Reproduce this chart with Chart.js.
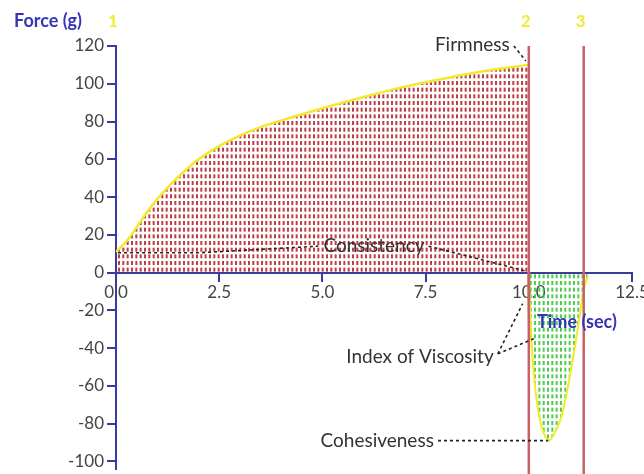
<!DOCTYPE html>
<html>
<head>
<meta charset="utf-8">
<script src="https://cdn.jsdelivr.net/npm/chart.js@4/dist/chart.umd.min.js"></script>
<style>
  html, body { margin: 0; padding: 0; background: #fff; }
</style>
</head>
<body>
<canvas id="chart" width="644" height="474"></canvas>
<script>
// compression run: force (g) against time (sec)
const holdTime = [0, 0.25, 0.5, 0.75, 1, 1.25, 1.5, 2, 2.5, 3, 3.5, 4, 5, 6, 7, 8, 9, 10];
const holdForce = [11, 16.5, 24, 32, 39, 45, 50.5, 60, 67, 72.5, 77, 80.5, 87, 93, 98.5, 103, 107, 110];

// withdrawal: negative (sticky) part
const pullTime = [10, 10.03, 10.08, 10.15, 10.22, 10.3, 10.4, 10.49, 10.6, 10.75, 10.9, 11.05, 11.2, 11.3, 11.38, 11.43];
const pullForce = [0, -20, -42, -60, -72, -81, -87, -89, -86, -79, -66, -48, -28, -13, -5, -2];

// short stretch used for index of viscosity
const viscTime = [10, 10.02];
const viscForce = [0, -35];

const xTicks = [0, 2.5, 5, 7.5, 10, 12.5];
const yTicks = [-100, -80, -60, -40, -20, 0, 20, 40, 60, 80, 100, 120];

// event markers 1, 2, 3
const markTime = [0, 10, 11.33];
const markLabel = ["1", "2", "3"];

const navy = "#3b3b9e";
const yellow = "#f3ea2e";

function toPoints(xs, ys) {
  return xs.map((v, i) => ({ x: v, y: ys[i] }));
}

// small dashed hatch fill
function hatch(color) {
  const c = document.createElement("canvas");
  c.width = 13;
  c.height = 20;
  const g = c.getContext("2d");
  g.fillStyle = color;
  for (let i = 0; i < 3; i++) {
    for (let j = 0; j < 3; j++) {
      g.fillRect(i * 4.33 + 1, j * 6.67 + 1, 2, 4);
    }
  }
  return g.createPattern(c, "repeat");
}

function dashed(ctx, pts) {
  ctx.save();
  ctx.strokeStyle = "#222";
  ctx.lineWidth = 1.6;
  ctx.setLineDash([3, 3]);
  ctx.beginPath();
  pts.forEach((p, i) => (i ? ctx.lineTo(p[0], p[1]) : ctx.moveTo(p[0], p[1])));
  ctx.stroke();
  ctx.restore();
}

// keep the plot box where the padding puts it
function noPad(s) {
  s.paddingLeft = 0;
  s.paddingRight = 0;
  s.paddingTop = 0;
  s.paddingBottom = 0;
}

const markers = {
  id: "markers",
  afterDatasetsDraw(chart) {
    const { ctx, scales: { x, y } } = chart;
    ctx.save();
    ctx.strokeStyle = "#c86262";
    ctx.lineWidth = 2.5;
    for (const t of markTime.slice(1)) {
      const px = x.getPixelForValue(t);
      ctx.beginPath();
      ctx.moveTo(px, y.getPixelForValue(120));
      ctx.lineTo(px, chart.height);
      ctx.stroke();
    }
    ctx.restore();
  },
  afterDraw(chart) {
    const { ctx, scales: { x, y } } = chart;
    const X = (v) => x.getPixelForValue(v);
    const Y = (v) => y.getPixelForValue(v);
    ctx.save();
    ctx.textBaseline = "middle";

    // axis captions
    ctx.fillStyle = "#3434b8";
    ctx.font = "bold 18px Lato";
    ctx.textAlign = "left";
    ctx.fillText("Force (g)", 14, 21);
    ctx.fillText("Time (sec)", X(10.2), Y(-26.5));

    // marker numbers
    ctx.fillStyle = yellow;
    ctx.font = "bold 17px Lato";
    ctx.textAlign = "center";
    markTime.forEach((t, i) => ctx.fillText(markLabel[i], X(t) - 3, 22));

    ctx.fillStyle = "#333";
    ctx.font = "19px Lato";

    // firmness: peak force
    const pk = [X(10), Y(110)];
    ctx.textAlign = "right";
    ctx.fillText("Firmness", pk[0] - 19, pk[1] - 20);
    dashed(ctx, [[pk[0] - 15, pk[1] - 19], [pk[0] - 3, pk[1] - 4]]);

    // consistency: area under the hold curve
    ctx.textAlign = "left";
    ctx.fillText("Consistency", X(5) + 1, Y(14));
    const cw = ctx.measureText("Consistency").width;
    dashed(ctx, [[X(0.05), Y(10.5)], [X(2), Y(10.5)], [X(4.9), Y(14)]]);
    dashed(ctx, [[X(5) + cw + 5, Y(14)], [X(9.9), Y(1)]]);

    // index of viscosity: negative area
    ctx.textAlign = "right";
    ctx.fillText("Index of Viscosity", X(9.15), Y(-44.5));
    dashed(ctx, [[X(9.25), Y(-43)], [X(9.85), Y(-16.5)]]);
    dashed(ctx, [[X(9.25), Y(-43)], [X(10.12), Y(-35)]]);

    // cohesiveness: lowest force
    ctx.fillText("Cohesiveness", X(7.7), Y(-89));
    dashed(ctx, [[X(7.8), Y(-89)], [X(10.47), Y(-89)]]);
    ctx.restore();
  },
};

new Chart(document.getElementById("chart"), {
  type: "line",
  data: {
    datasets: [
      {
        data: toPoints(holdTime, holdForce),
        borderColor: yellow,
        borderWidth: 2.5,
        backgroundColor: hatch("rgba(180, 40, 50, 0.9)"),
        fill: "origin",
        tension: 0.35,
      },
      {
        data: toPoints(pullTime, pullForce),
        borderColor: yellow,
        borderWidth: 2,
        backgroundColor: hatch("rgba(60, 200, 60, 0.9)"),
        fill: "origin",
        tension: 0.2,
      },
      {
        data: toPoints(viscTime, viscForce),
        borderColor: "#e07a1e",
        borderWidth: 3,
        fill: false,
      },
    ],
  },
  options: {
    responsive: false,
    animation: false,
    events: [],
    elements: { point: { radius: 0 } },
    layout: { autoPadding: false, padding: { top: 46, right: 12, bottom: 5, left: 0 } },
    plugins: { legend: { display: false }, tooltip: { enabled: false } },
    scales: {
      x: {
        type: "linear",
        min: 0,
        max: 12.5,
        position: { y: 0 },
        z: 1,
        afterBuildTicks: (s) => { s.ticks = xTicks.map((v) => ({ value: v })); },
        afterFit: noPad,
        ticks: {
          callback: (v) => Number(v).toFixed(1),
          color: "#444",
          font: { family: "Lato", size: 17 },
          padding: 2,
          maxRotation: 0,
        },
        grid: { drawOnChartArea: false, tickLength: 8, color: navy, tickColor: navy, lineWidth: 2 },
        border: { color: navy, width: 2 },
      },
      y: {
        min: -104,
        max: 120,
        z: 1,
        afterBuildTicks: (s) => { s.ticks = yTicks.map((v) => ({ value: v })); },
        afterFit: (s) => { s.width = 116; noPad(s); },
        ticks: {
          color: "#444",
          font: { family: "Lato", size: 17 },
          padding: 3,
        },
        grid: { drawOnChartArea: false, tickLength: 9, color: navy, tickColor: navy, lineWidth: 2 },
        border: { color: navy, width: 2 },
      },
    },
  },
  plugins: [markers],
});
</script>
</body>
</html>
